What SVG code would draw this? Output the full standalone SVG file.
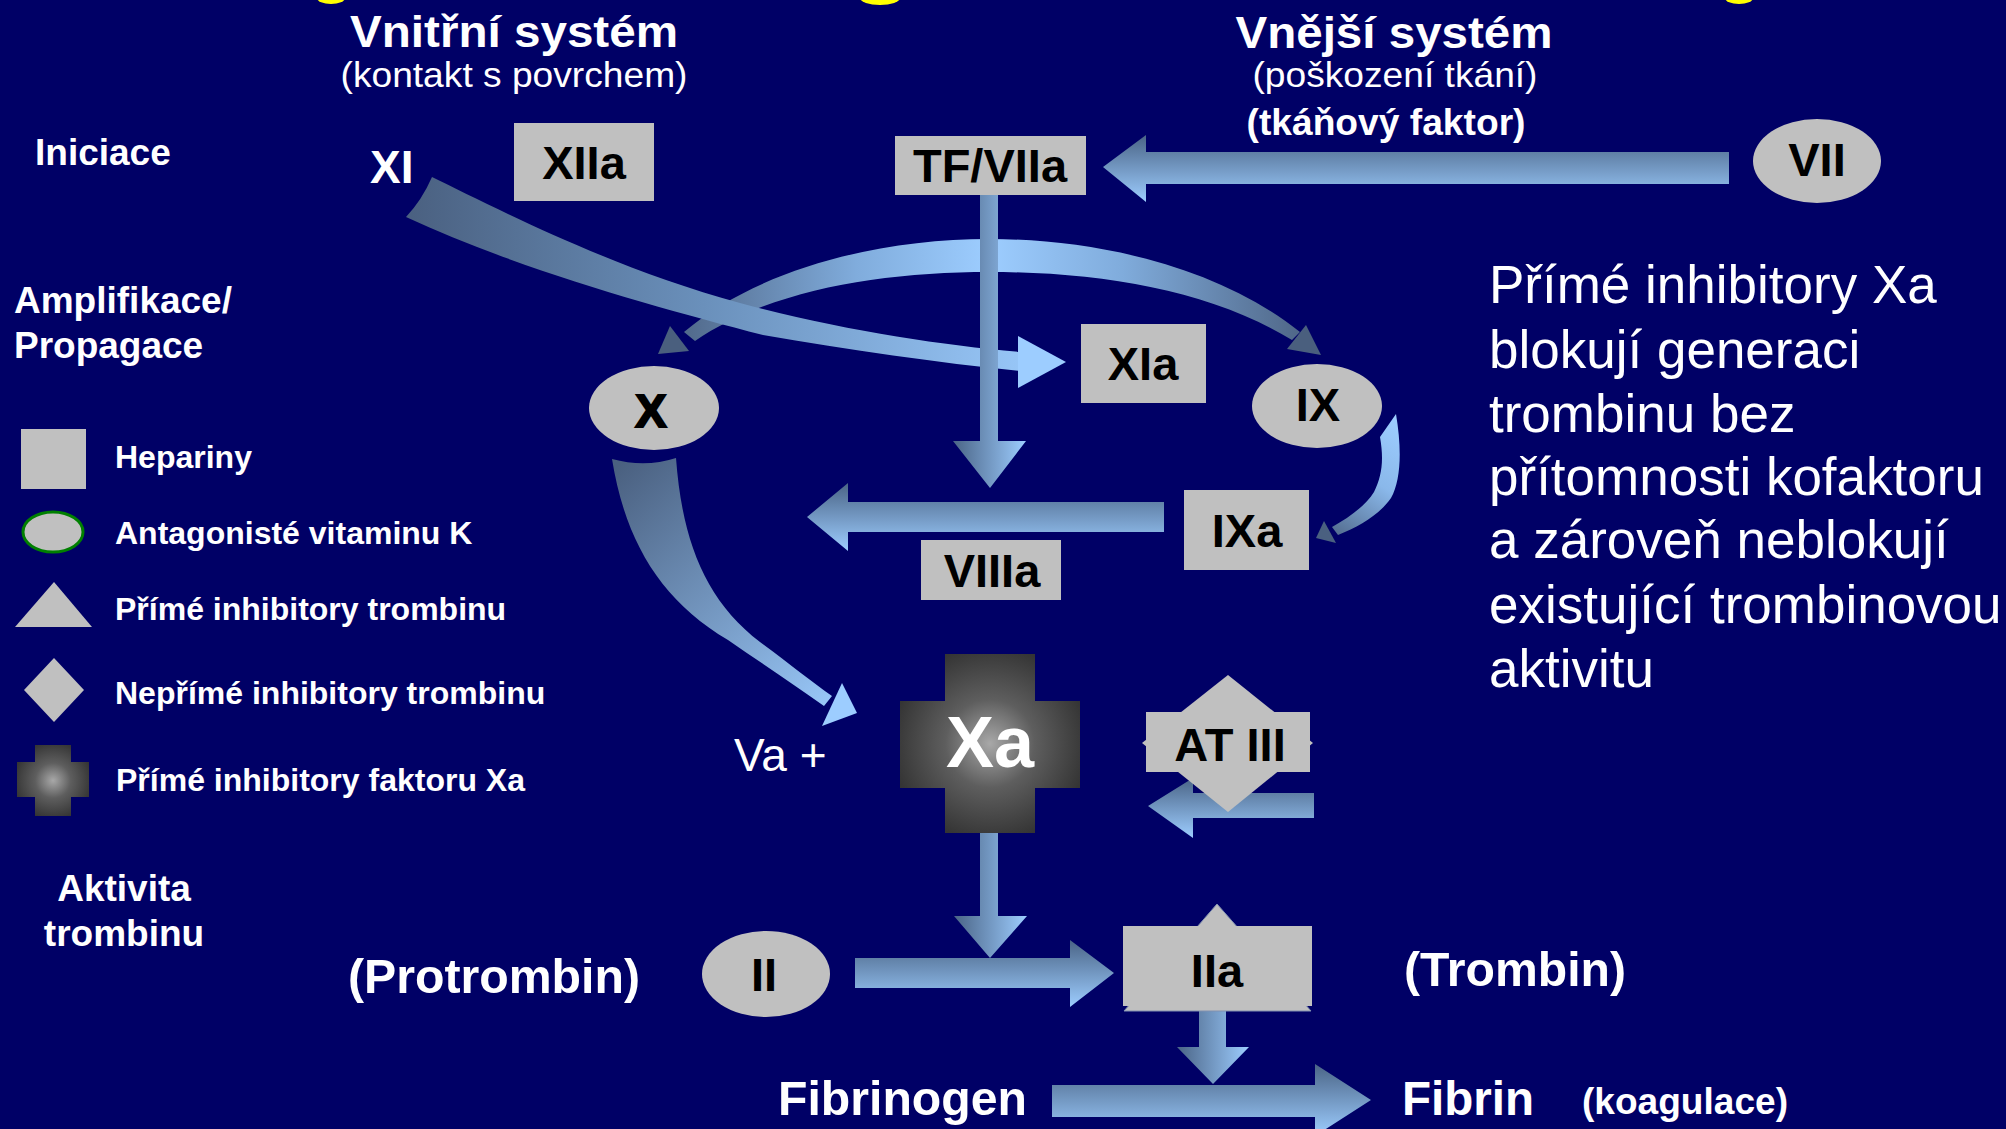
<svg xmlns="http://www.w3.org/2000/svg" width="2006" height="1129" viewBox="0 0 2006 1129">
<defs>
<style>
.wt{fill:#ffffff;font-family:"Liberation Sans",Arial,sans-serif;}
.b{font-weight:bold;}
.nl{fill:#000000;font-family:"Liberation Sans",Arial,sans-serif;font-weight:bold;font-size:47px;text-anchor:middle;}
.node{fill:#c0c0c0;}
.leg{fill:#ffffff;font-family:"Liberation Sans",Arial,sans-serif;font-weight:bold;font-size:32px;}
.ah{fill:url(#gH);}
.av{fill:url(#gV);}
</style>
<linearGradient id="gH" x1="0" y1="0" x2="0" y2="1">
<stop offset="0" stop-color="#4a6486"/>
<stop offset="1" stop-color="#9dcdff"/>
</linearGradient>
<linearGradient id="gV" x1="0" y1="0" x2="1" y2="0">
<stop offset="0" stop-color="#4a6486"/>
<stop offset="1" stop-color="#9dcdff"/>
</linearGradient>
<linearGradient id="gArc" gradientUnits="userSpaceOnUse" x1="657" y1="0" x2="1321" y2="0">
<stop offset="0" stop-color="#4a5f7e"/>
<stop offset="0.3" stop-color="#80acdc"/>
<stop offset="0.5" stop-color="#9dcdff"/>
<stop offset="0.7" stop-color="#80acdc"/>
<stop offset="1" stop-color="#4a5f7e"/>
</linearGradient>
<linearGradient id="gXI" gradientUnits="userSpaceOnUse" x1="406" y1="0" x2="1066" y2="0">
<stop offset="0" stop-color="#4a6080"/>
<stop offset="0.45" stop-color="#6a90bb"/>
<stop offset="1" stop-color="#9dcdff"/>
</linearGradient>
<linearGradient id="gX" gradientUnits="userSpaceOnUse" x1="625" y1="460" x2="850" y2="712">
<stop offset="0" stop-color="#4a6080"/>
<stop offset="1" stop-color="#9dcdff"/>
</linearGradient>
<linearGradient id="gIX" gradientUnits="userSpaceOnUse" x1="1398" y1="420" x2="1318" y2="537">
<stop offset="0" stop-color="#9dcdff"/>
<stop offset="0.45" stop-color="#8ab8ea"/>
<stop offset="1" stop-color="#4a6080"/>
</linearGradient>
<radialGradient id="gCross" cx="0.5" cy="0.5" r="0.55">
<stop offset="0" stop-color="#a8a8a8"/>
<stop offset="0.45" stop-color="#5e5e5e"/>
<stop offset="1" stop-color="#343434"/>
</radialGradient>
</defs>

<rect x="0" y="0" width="2006" height="1129" fill="#000066"/>

<g id="title-remnant" fill="#ffff00">
<ellipse cx="331" cy="-2" rx="14" ry="6"/>
<ellipse cx="880" cy="-2" rx="20" ry="7"/>
<ellipse cx="1739" cy="-2" rx="14" ry="6"/>
</g>

<g id="headings">
<text class="wt b" x="514" y="47" font-size="44" text-anchor="middle" textLength="328" lengthAdjust="spacingAndGlyphs">Vnitřní systém</text>
<text class="wt" x="514" y="87" font-size="35" text-anchor="middle" textLength="347" lengthAdjust="spacingAndGlyphs">(kontakt s povrchem)</text>
<text class="wt b" x="1394" y="48" font-size="44" text-anchor="middle" textLength="317" lengthAdjust="spacingAndGlyphs">Vnější systém</text>
<text class="wt" x="1395" y="87" font-size="35" text-anchor="middle" textLength="285" lengthAdjust="spacingAndGlyphs">(poškození tkání)</text>
<text class="wt b" x="1386" y="135" font-size="36" text-anchor="middle" textLength="279" lengthAdjust="spacingAndGlyphs">(tkáňový faktor)</text>
</g>

<g id="phase-labels">
<text class="wt b" x="35" y="165" font-size="37">Iniciace</text>
<text class="wt b" x="14" y="313" font-size="37">Amplifikace/</text>
<text class="wt b" x="14" y="358" font-size="37">Propagace</text>
<text class="wt b" x="124" y="901" font-size="37" text-anchor="middle">Aktivita</text>
<text class="wt b" x="124" y="946" font-size="37" text-anchor="middle">trombinu</text>
</g>

<g id="legend">
<g id="legend-heparin"><rect class="node" x="21" y="429" width="65" height="60"/><text class="leg" x="115" y="468">Hepariny</text></g>
<g id="legend-vka"><ellipse class="node" cx="53" cy="532" rx="30" ry="20" stroke="#008000" stroke-width="3"/><text class="leg" x="115" y="544">Antagonisté vitaminu K</text></g>
<g id="legend-dti"><polygon class="node" points="54,582 92,627 15,627"/><text class="leg" x="115" y="620">Přímé inhibitory trombinu</text></g>
<g id="legend-iti"><polygon class="node" points="54,658 84,690 54,722 24,690"/><text class="leg" x="115" y="704">Nepřímé inhibitory trombinu</text></g>
<g id="legend-xai"><path d="M35,745 H71 V762 H89 V797 H71 V816 H35 V797 H17 V762 H35 Z" fill="url(#gCross)"/><text class="leg" x="116" y="791">Přímé inhibitory faktoru Xa</text></g>
</g>

<g id="connectors">
<!-- arc TF/VIIa -> X and IX -->
<path d="M684,332 C760,268 880,239 989,239 C1100,239 1220,268 1300,332 L1292,340 C1210,290 1100,272 989,272 C880,272 770,290 695,341 Z" fill="url(#gArc)"/>
<polygon points="670,326 658,354 689,351" fill="#4a5f7e"/>
<polygon points="1306,325 1321,355 1287,349" fill="#4a5f7e"/>
<!-- XI -> XIa -->
<path d="M432,177 C490,205 610,268 740,303 C840,330 940,345 1020,352 L1020,371 C940,363 850,350 763,335 C660,308 520,270 406,217 Q422,200 432,177 Z" fill="url(#gXI)"/>
<polygon points="1018,336 1066,362 1018,388" fill="#9dcdff"/>
<!-- VII -> TF/VIIa -->
<polygon class="ah" points="1103,167 1146,135 1146,152 1729,152 1729,184 1146,184 1146,202"/>
<!-- TF/VIIa down -->
<polygon class="av" points="980,194 998,194 998,441 1026,441 990,488 953,441 980,441"/>
<!-- IX -> IXa -->
<path d="M1380,437 L1396,414 C1402,450 1401,480 1391,498 C1379,515 1360,526 1338,535 L1332,527 C1350,517 1366,505 1374,492 C1382,476 1384,460 1380,437 Z" fill="url(#gIX)"/>
<polygon points="1324,521 1316,538 1336,543" fill="#4a6080"/>
<!-- IXa -> left -->
<polygon class="ah" points="807,517 848,483 848,502 1164,502 1164,532 848,532 848,551"/>
<!-- X -> Xa -->
<path d="M676,458 C682,540 705,600 760,642 C790,664 812,682 832,696 L824,706 C790,682 760,662 728,640 C660,600 625,540 612,459 Q645,468 676,458 Z" fill="url(#gX)"/>
<polygon points="842,683 857,713 822,726" fill="#9dcdff"/>
<!-- AT III arrow -->
<polygon class="ah" points="1148,806 1193,778 1193,793 1314,793 1314,818 1193,818 1193,838"/>
<!-- Xa down -->
<polygon class="av" points="980,832 998,832 998,916 1027,916 990,958 954,916 980,916"/>
<!-- II -> IIa -->
<polygon class="ah" points="855,958 1070,958 1070,940 1114,973 1070,1007 1070,988 855,988"/>
<!-- IIa down -->
<polygon class="av" points="1199,1008 1226,1008 1226,1047 1249,1047 1213,1084 1177,1047 1199,1047"/>
<!-- Fibrinogen -> Fibrin -->
<polygon class="ah" points="1052,1085 1315,1085 1315,1064 1371,1100 1315,1136 1315,1117 1052,1117"/>
</g>

<g id="node-XI"><text class="wt b" x="370" y="183" font-size="46">XI</text></g>
<g id="node-XIIa"><rect class="node" x="514" y="123" width="140" height="78"/><text class="nl" x="584" y="179">XIIa</text></g>
<g id="node-TFVIIa"><rect class="node" x="895" y="136" width="191" height="59"/><text class="nl" x="990" y="182">TF/VIIa</text></g>
<g id="node-VII"><ellipse class="node" cx="1817" cy="161" rx="64" ry="42"/><text class="nl" x="1817" y="176">VII</text></g>
<g id="node-XIa"><rect class="node" x="1081" y="324" width="125" height="79"/><text class="nl" x="1143" y="380">XIa</text></g>
<g id="node-X"><ellipse class="node" cx="654" cy="408" rx="65" ry="42"/><text class="nl" x="651" y="427" font-size="56" stroke="#000" stroke-width="2">X</text></g>
<g id="node-IX"><ellipse class="node" cx="1317" cy="406" rx="65" ry="42"/><text class="nl" x="1318" y="421">IX</text></g>
<g id="node-IXa"><rect class="node" x="1184" y="490" width="125" height="80"/><text class="nl" x="1247" y="547">IXa</text></g>
<g id="node-VIIIa"><rect class="node" x="921" y="540" width="140" height="60"/><text class="nl" x="992" y="587">VIIIa</text></g>
<g id="node-Va"><text class="wt" x="734" y="771" font-size="46">Va +</text></g>
<g id="node-Xa"><path d="M945,654 H1035 V701 H1080 V788 H1035 V833 H945 V788 H900 V701 H945 Z" fill="url(#gCross)"/><text class="wt b" x="990" y="767" font-size="72" text-anchor="middle">Xa</text></g>
<g id="node-ATIII"><polygon class="node" points="1228,675 1313,743 1228,812 1142,743"/><rect class="node" x="1146" y="712" width="164" height="60"/><text class="nl" x="1230" y="761">AT III</text></g>
<g id="node-II"><ellipse class="node" cx="766" cy="974" rx="64" ry="43"/><text class="nl" x="764" y="991">II</text></g>
<g id="node-IIa"><polygon class="node" points="1217,904 1311,1011 1124,1011" stroke="#8090b0" stroke-width="1"/><rect class="node" x="1123" y="926" width="189" height="80"/><text class="nl" x="1217" y="987">IIa</text></g>

<g id="bottom-labels">
<text class="wt b" x="348" y="993" font-size="48" textLength="292" lengthAdjust="spacingAndGlyphs">(Protrombin)</text>
<text class="wt b" x="1404" y="986" font-size="48" textLength="222" lengthAdjust="spacingAndGlyphs">(Trombin)</text>
<text class="wt b" x="778" y="1115" font-size="48" textLength="249" lengthAdjust="spacingAndGlyphs">Fibrinogen</text>
<text class="wt b" x="1402" y="1115" font-size="48" textLength="132" lengthAdjust="spacingAndGlyphs">Fibrin</text>
<text class="wt b" x="1582" y="1114" font-size="36" textLength="206" lengthAdjust="spacingAndGlyphs">(koagulace)</text>
</g>

<g id="note" class="wt" font-size="53">
<text x="1489" y="303">Přímé inhibitory Xa</text>
<text x="1489" y="368">blokují generaci</text>
<text x="1489" y="432">trombinu bez</text>
<text x="1489" y="495">přítomnosti kofaktoru</text>
<text x="1489" y="558">a zároveň neblokují</text>
<text x="1489" y="623">existující trombinovou</text>
<text x="1489" y="687">aktivitu</text>
</g>
</svg>
